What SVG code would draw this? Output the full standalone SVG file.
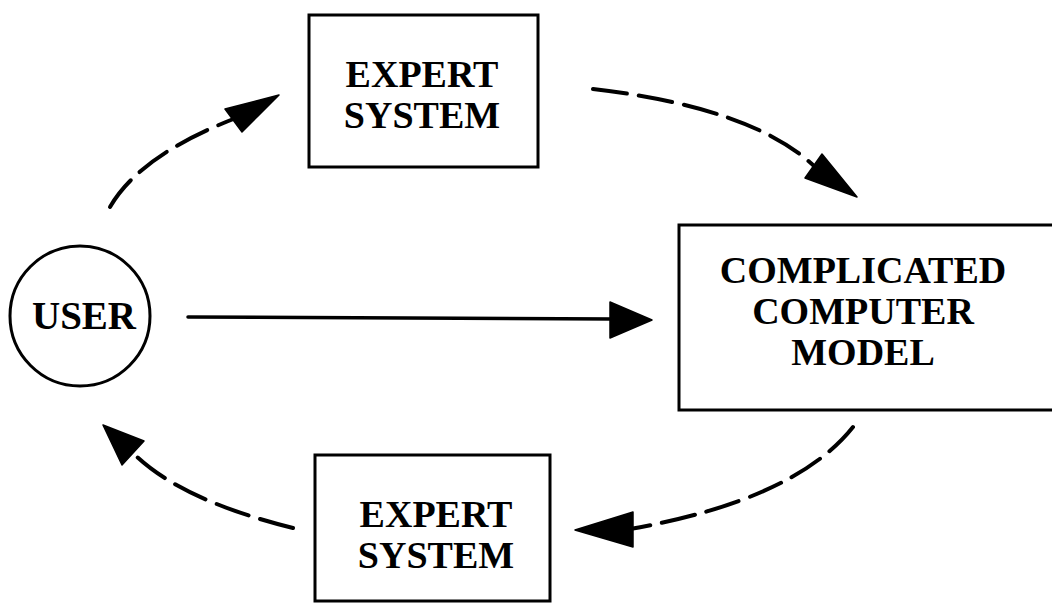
<svg xmlns="http://www.w3.org/2000/svg" width="1052" height="605" viewBox="0 0 1052 605">
  <style>
    .box { fill: none; stroke: #000; stroke-width: 3; }
    .lbl { font-family: "Liberation Serif", "Times New Roman", serif; font-weight: bold; fill: #000; text-anchor: middle; }
    .dash { fill: none; stroke: #000; stroke-width: 4; stroke-dasharray: 34 12; stroke-linecap: round; }
    .solid { fill: none; stroke: #000; stroke-width: 3.5; stroke-linecap: round; }
    .head { fill: #000; stroke: #000; stroke-width: 1.5; stroke-linejoin: round; }
  </style>
  <rect width="1052" height="605" fill="#fff"/>

  <g id="user">
    <circle cx="80" cy="316" r="70" class="box" stroke-width="2.5"/>
    <text x="84" y="329" class="lbl" font-size="39">USER</text>
  </g>

  <g id="expert-top">
    <rect x="309" y="15" width="229" height="152" class="box"/>
    <text x="422" y="87" class="lbl" font-size="38">EXPERT</text>
    <text x="422" y="128" class="lbl" font-size="38">SYSTEM</text>
  </g>

  <g id="model">
    <rect x="679" y="225" width="390" height="185" class="box"/>
    <text x="863" y="283" class="lbl" font-size="38">COMPLICATED</text>
    <text x="863" y="324" class="lbl" font-size="38">COMPUTER</text>
    <text x="863" y="365" class="lbl" font-size="38">MODEL</text>
  </g>

  <g id="expert-bottom">
    <rect x="315" y="455" width="235" height="146" class="box"/>
    <text x="436" y="527" class="lbl" font-size="38">EXPERT</text>
    <text x="436" y="568" class="lbl" font-size="38">SYSTEM</text>
  </g>

  <g id="connectors">
    <!-- user to upper expert system -->
    <path d="M110,207 Q140,155 236,118" class="dash"/>
    <polygon points="279,95 225,109 242,132" class="head"/>
    <!-- upper expert system to model -->
    <path d="M593,89 Q755,108 816,168" class="dash"/>
    <polygon points="857,197 805,178 822,154" class="head"/>
    <!-- user to model, direct -->
    <path d="M188,317 L614,319" class="solid"/>
    <polygon points="652,320 610,302 610,338" class="head"/>
    <!-- model to lower expert system -->
    <path d="M853,427 Q795,500 630,529" class="dash"/>
    <polygon points="575,530 633,512 633,547" class="head"/>
    <!-- lower expert system back to user -->
    <path d="M293,528 Q180,500 133,453" class="dash"/>
    <polygon points="103,425 144,441 122,465" class="head"/>
  </g>
</svg>
